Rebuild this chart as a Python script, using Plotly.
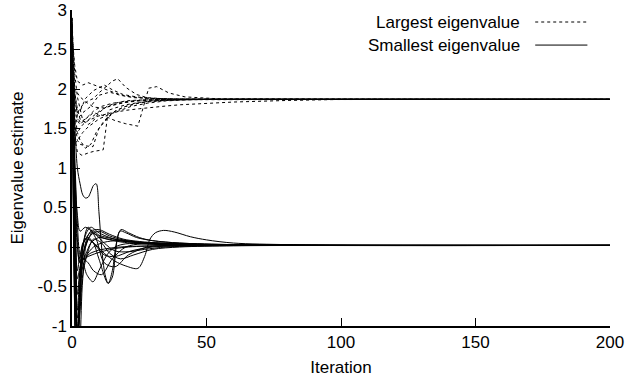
import plotly.graph_objects as go

# ---------------- data ----------------
# Largest eigenvalue estimates (dashed), one list of iterations + one list of values per run
largest_x = [
    [0, 1, 2, 3, 4, 6, 8, 10, 13, 16, 20, 25, 30, 40, 60, 200],
    [0, 1, 2, 4, 6, 8, 10, 13, 15, 17, 20, 24, 28, 35, 50, 200],
    [0, 1, 2, 3, 5, 8, 12, 16, 20, 24.5, 28.5, 31.5, 36, 42, 55, 200],
    [0, 1, 2, 3.7, 6, 8, 11.6, 13.5, 16, 20, 25, 30, 40, 55, 200],
    [0, 1, 2, 4, 6, 9, 12, 16, 20, 25, 30, 40, 200],
    [0, 1, 2, 4, 6, 10, 15, 20, 25, 30, 35, 40, 50, 60, 80, 100, 200],
    [0, 1, 2, 4, 6, 8, 10, 14, 18, 22, 28, 35, 45, 200],
    [0, 1, 2, 3, 5, 8, 11, 15, 20, 26, 35, 200],
    [0, 1, 2, 3, 5, 7, 9, 12, 15, 19, 24, 30, 40, 200],
    [0, 1, 2, 3, 5, 8, 11, 15, 20, 25, 32, 45, 200],
    [0, 1, 2, 3, 5, 7.8, 10, 13, 16, 20, 26, 35, 50, 200],
    [0, 1, 2, 3, 5, 8, 12, 16, 21, 27, 35, 200],
    [0, 1, 2, 3, 5, 8, 12, 15, 19, 24, 30, 38, 200],
    [0, 1, 2, 4, 7, 10, 14, 18, 23, 30, 40, 200],
]
largest_y = [
    [2.80, 2.20, 1.90, 1.75, 1.60, 1.55, 1.60, 1.70, 1.78, 1.82, 1.85, 1.86, 1.865, 1.87, 1.87, 1.87],
    [2.60, 1.90, 1.70, 1.80, 1.85, 1.88, 1.95, 2.04, 2.10, 2.13, 2.02, 1.93, 1.89, 1.875, 1.87, 1.87],
    [2.50, 1.80, 1.60, 1.55, 1.62, 1.70, 1.66, 1.60, 1.56, 1.53, 2.01, 2.03, 1.95, 1.90, 1.875, 1.87],
    [2.30, 1.40, 1.20, 1.16, 1.19, 1.21, 1.23, 1.73, 1.76, 1.80, 1.83, 1.85, 1.865, 1.87, 1.87],
    [2.70, 2.30, 2.10, 2.05, 2.08, 2.04, 2.00, 1.95, 1.91, 1.89, 1.88, 1.872, 1.87],
    [2.40, 1.50, 1.45, 1.55, 1.60, 1.66, 1.70, 1.73, 1.75, 1.77, 1.785, 1.80, 1.82, 1.835, 1.855, 1.868, 1.87],
    [2.20, 1.30, 1.35, 1.45, 1.52, 1.57, 1.62, 1.68, 1.73, 1.78, 1.82, 1.85, 1.865, 1.87],
    [2.90, 2.00, 1.65, 1.58, 1.62, 1.72, 1.78, 1.82, 1.84, 1.86, 1.868, 1.87],
    [2.60, 1.70, 1.45, 1.35, 1.25, 1.30, 1.45, 1.60, 1.70, 1.77, 1.82, 1.85, 1.867, 1.87],
    [2.40, 1.95, 1.75, 1.62, 1.58, 1.66, 1.74, 1.80, 1.83, 1.85, 1.862, 1.869, 1.87],
    [2.50, 1.60, 1.35, 1.30, 1.28, 1.27, 1.50, 1.62, 1.72, 1.78, 1.83, 1.855, 1.868, 1.87],
    [2.70, 2.00, 1.95, 1.90, 1.84, 1.77, 1.76, 1.80, 1.84, 1.86, 1.868, 1.87],
    [2.55, 1.85, 1.70, 1.72, 1.88, 1.98, 2.05, 1.99, 1.93, 1.90, 1.88, 1.872, 1.87],
    [2.35, 1.55, 1.62, 1.70, 1.78, 1.92, 1.96, 1.92, 1.89, 1.88, 1.872, 1.87],
]

# Smallest eigenvalue estimates (solid)
smallest_x = [
    [0, 1, 2, 3, 4, 5, 6, 7, 8, 9, 10, 11, 12.3, 13.5, 15, 17.8, 20, 24, 30, 40, 60, 100, 200],
    [0, 1, 2, 3, 5, 8, 12, 16, 20, 24.5, 27, 29, 31, 34, 38, 44, 50, 60, 80, 100, 200],
    [0, 1, 2, 3, 4, 6, 8, 10, 13.4, 15, 16.5, 18.2, 21, 25, 30, 40, 60, 100, 200],
    [0, 1, 2, 3, 4, 5.5, 7.8, 10, 13, 16, 20, 26, 35, 50, 80, 200],
    [0, 1, 2, 3, 4, 6, 8, 10, 13, 16, 20, 25, 30, 40, 50, 70, 100, 200],
    [0, 0.7, 1.5, 2.5, 3.5, 5, 7, 10, 14, 18, 24, 32, 45, 70, 200],
    [0, 1, 2, 3, 4, 6, 9, 12, 16, 21, 27, 35, 50, 80, 200],
    [0, 0.8, 1.6, 2.6, 3.6, 5, 7, 10, 14, 19, 25, 33, 45, 70, 200],
    [0, 1, 2, 3, 5, 7, 10, 13, 17, 22, 28, 36, 50, 80, 200],
    [0, 1, 2, 3, 4, 6, 8, 11, 15, 20, 26, 34, 48, 75, 200],
    [0, 1, 2, 3, 5, 7, 9, 12, 16, 21, 27, 35, 50, 80, 200],
    [0, 1, 2, 3, 4, 6, 9, 13, 18, 24, 32, 45, 70, 200],
    [0, 1, 2, 3, 5, 8, 11, 15, 20, 26, 34, 48, 75, 200],
    [0, 1, 2, 3, 4, 6, 8, 11, 14, 18, 23, 30, 40, 60, 90, 200],
    [0, 1, 2, 3, 5, 7, 10, 14, 19, 25, 33, 45, 70, 200],
    [0, 1, 2, 3, 4, 6, 9, 12, 16, 21, 28, 38, 55, 85, 200],
    [0, 1, 2, 3, 5, 8, 12, 17, 23, 30, 40, 60, 200],
    [0, 1, 2, 3, 4, 6, 8, 12, 16, 22, 30, 42, 60, 200],
]
smallest_y = [
    [2.60, 1.60, 1.00, 0.80, 0.66, 0.62, 0.63, 0.70, 0.78, 0.80, 0.45, 0.00, -0.35, -0.46, -0.38, 0.20, 0.18, 0.12, 0.08, 0.05, 0.03, 0.02, 0.02],
    [2.40, 0.50, -0.80, -0.30, 0.10, 0.05, -0.08, -0.18, -0.24, -0.27, -0.12, 0.10, 0.18, 0.21, 0.19, 0.13, 0.09, 0.05, 0.03, 0.022, 0.02],
    [2.70, 0.20, -1.30, -0.40, 0.05, 0.12, 0.05, -0.15, -0.46, -0.30, 0.05, 0.22, 0.18, 0.12, 0.08, 0.05, 0.03, 0.02, 0.02],
    [2.50, 0.80, -0.60, -0.30, -0.20, -0.35, -0.44, -0.30, -0.10, 0.00, 0.04, 0.04, 0.03, 0.025, 0.02, 0.02],
    [2.80, -0.50, -1.30, -0.60, -0.10, 0.10, 0.20, 0.15, 0.12, 0.10, 0.08, 0.06, 0.05, 0.04, 0.03, 0.022, 0.02, 0.02],
    [2.90, 0.00, -1.40, -0.90, -0.20, 0.15, 0.25, 0.18, 0.12, 0.08, 0.06, 0.05, 0.035, 0.022, 0.02],
    [2.30, 1.20, 0.30, -0.10, -0.15, -0.12, -0.08, -0.05, -0.02, 0.00, 0.01, 0.015, 0.018, 0.02, 0.02],
    [2.75, -0.20, -1.50, -1.00, -0.30, 0.05, 0.20, 0.22, 0.16, 0.10, 0.07, 0.05, 0.035, 0.022, 0.02],
    [2.45, 0.90, 0.10, -0.20, -0.10, 0.05, 0.12, 0.10, 0.07, 0.05, 0.04, 0.03, 0.025, 0.02, 0.02],
    [2.65, 0.40, -0.90, -0.50, -0.15, -0.20, -0.30, -0.35, -0.15, 0.00, 0.04, 0.035, 0.025, 0.02, 0.02],
    [2.55, 0.70, -0.30, -0.10, 0.10, 0.18, 0.15, 0.05, -0.05, -0.06, -0.03, 0.00, 0.015, 0.02, 0.02],
    [2.85, 0.10, -1.20, -0.70, -0.25, -0.10, -0.05, -0.02, 0.00, 0.01, 0.015, 0.02, 0.02, 0.02],
    [2.35, 1.00, 0.40, 0.20, 0.25, 0.18, 0.12, 0.09, 0.07, 0.05, 0.04, 0.03, 0.022, 0.02],
    [2.70, 0.30, -1.10, -0.80, -0.35, -0.05, 0.10, 0.05, -0.08, -0.15, -0.10, -0.03, 0.00, 0.015, 0.02, 0.02],
    [2.50, 0.60, -0.40, -0.25, 0.00, 0.15, 0.20, 0.14, 0.09, 0.06, 0.045, 0.035, 0.025, 0.02],
    [2.60, 0.00, -1.00, -0.50, 0.00, 0.25, 0.10, -0.20, -0.25, -0.10, 0.00, 0.02, 0.02, 0.02, 0.02],
    [2.40, 0.90, 0.00, -0.20, -0.12, 0.00, 0.06, 0.08, 0.06, 0.04, 0.03, 0.022, 0.02],
    [2.90, -0.80, -1.60, -1.20, -0.40, 0.10, 0.05, -0.10, -0.12, -0.05, 0.00, 0.015, 0.02, 0.02],
]

x_ticks = [0, 50, 100, 150, 200]
x_tick_labels = ["0", "50", "100", "150", "200"]
y_ticks = [-1, -0.5, 0, 0.5, 1, 1.5, 2, 2.5, 3]
y_tick_labels = ["-1", "-0.5", "0", "0.5", "1", "1.5", "2", "2.5", "3"]

legend_labels = ["Largest eigenvalue", "Smallest eigenvalue"]

# ---------------- figure ----------------
FONT = "Liberation Sans, Arial, sans-serif"
FS = 17
fig = go.Figure()

for xs, ys in zip(smallest_x, smallest_y):
    fig.add_trace(go.Scatter(x=xs, y=ys, mode="lines", showlegend=False,
                             line=dict(color="black", width=1, shape="spline", smoothing=0.9),
                             hoverinfo="skip"))
for xs, ys in zip(largest_x, largest_y):
    fig.add_trace(go.Scatter(x=xs, y=ys, mode="lines", showlegend=False,
                             line=dict(color="black", width=1, dash="3px,3px"),
                             hoverinfo="skip"))

fig.update_layout(
    width=626, height=382,
    margin=dict(l=72, r=16, t=10, b=56),
    paper_bgcolor="white", plot_bgcolor="white",
    font=dict(family=FONT, size=FS, color="black"),
    xaxis=dict(range=[0, 200], tickvals=x_ticks, ticktext=x_tick_labels,
               ticks="inside", ticklen=8, tickwidth=1, tickcolor="black",
               showline=True, linecolor="black", linewidth=1.5,
               showgrid=False, zeroline=False, automargin=False,
               tickfont=dict(family=FONT, size=FS),
               title=dict(text="Iteration", standoff=10,
                          font=dict(family=FONT, size=FS))),
    yaxis=dict(range=[-1, 3], tickvals=y_ticks, ticktext=y_tick_labels,
               ticks="inside", ticklen=8, tickwidth=1, tickcolor="black",
               showline=True, linecolor="black", linewidth=1.5,
               showgrid=False, zeroline=False, automargin=False,
               tickfont=dict(family=FONT, size=FS),
               title=dict(text="Eigenvalue estimate", standoff=10,
                          font=dict(family=FONT, size=FS))),
)

# legend drawn gnuplot-style: text right-aligned, sample line on the right
legend_rows = [(0.962, "3px,3px"), (0.889, "solid")]
for label, (yy, dash) in zip(legend_labels, legend_rows):
    fig.add_annotation(x=0.837, y=yy, xref="paper", yref="paper", text=label,
                       showarrow=False, xanchor="right", yanchor="middle",
                       font=dict(family=FONT, size=FS, color="black"))
    fig.add_shape(type="line", xref="paper", yref="paper",
                  x0=0.861, x1=0.958, y0=yy, y1=yy,
                  line=dict(color="black", width=1, dash=dash))

fig.write_html("out.html")
